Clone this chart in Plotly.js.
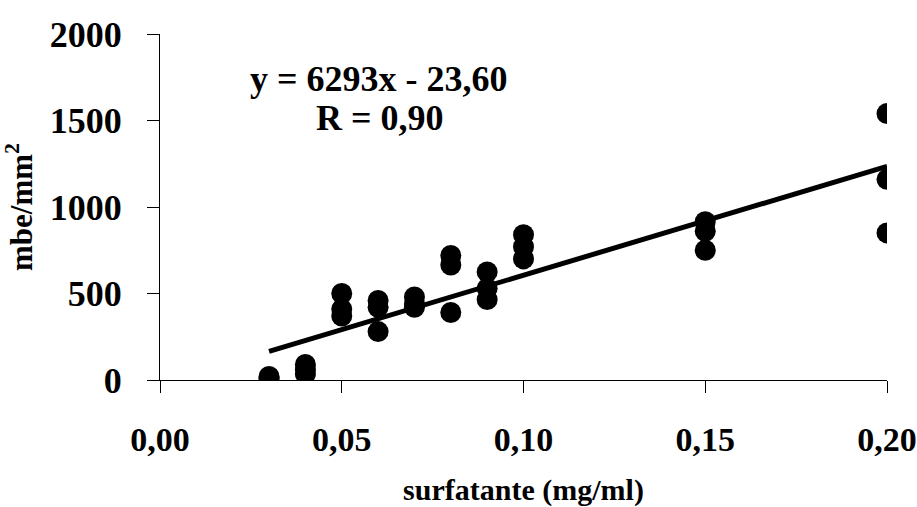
<!DOCTYPE html>
<html>
<head>
<meta charset="utf-8">
<script src="https://cdn.plot.ly/plotly-3.0.1.min.js"></script>
<style>html,body{margin:0;padding:0;background:#fff}#chart{width:917px;height:507px}</style>
</head>
<body>
<div id="chart"></div>
<script>
// Data
const surfactant = [0.03,0.03, 0.04,0.04,0.04, 0.05,0.05,0.05, 0.06,0.06,0.06, 0.07,0.07,0.07, 0.08,0.08,0.08, 0.09,0.09,0.09, 0.10,0.10,0.10, 0.15,0.15,0.15, 0.20,0.20,0.20];
const mbe = [10,20, 90,60,35, 500,410,370, 460,420,280, 480,440,420, 720,665,390, 625,530,465, 840,770,700, 915,860,750, 1540,1160,850];
const fitSlope = 6293;
const fitIntercept = -23.60;
const fitX = [0.03, 0.20];
const fitY = fitX.map(x => fitSlope * x + fitIntercept);
const xTickVals = [0, 0.05, 0.10, 0.15, 0.20];
const xTickText = ['0,00','0,05','0,10','0,15','0,20'];
const yTickVals = [0, 500, 1000, 1500, 2000];
const yTickText = ['0','500','1000','1500','2000'];

const FONT = 'Liberation Serif, Times New Roman, serif';

const traces = [
  {x: surfactant, y: mbe, type: 'scatter', mode: 'markers',
   marker: {color: '#000', size: 21}, hoverinfo: 'x+y'},
  {x: fitX, y: fitY, type: 'scatter', mode: 'lines',
   line: {color: '#000', width: 5}, hoverinfo: 'skip'}
];

const layout = {
  width: 917, height: 507,
  margin: {l: 160, r: 30, t: 34, b: 127},
  paper_bgcolor: '#fff', plot_bgcolor: '#fff',
  showlegend: false,
  font: {family: FONT, color: '#000', weight: 'bold'},
  xaxis: {
    range: [0, 0.20], tickvals: xTickVals, ticktext: xTickText,
    showgrid: false, zeroline: false, showline: true, linecolor: '#000', linewidth: 1,
    ticks: 'outside', ticklen: 12, tickcolor: '#000', tickwidth: 1,
    tickfont: {family: FONT, size: 34, color: '#000', weight: 'bold'},
    ticklabelstandoff: 17,
    title: {text: 'surfatante (mg/ml)', font: {family: FONT, size: 30, color: '#000', weight: 'bold'}, standoff: 24},
    fixedrange: true
  },
  yaxis: {
    range: [0, 2000], tickvals: yTickVals, ticktext: yTickText,
    showgrid: false, zeroline: false, showline: true, linecolor: '#000', linewidth: 1,
    ticks: 'outside', ticklen: 12, tickcolor: '#000', tickwidth: 1,
    tickfont: {family: FONT, size: 36, color: '#000', weight: 'bold'},
    ticklabelstandoff: 18,
    title: {text: 'mbe/mm<sup>2</sup>', font: {family: FONT, size: 31, color: '#000', weight: 'bold'}, standoff: 10},
    fixedrange: true
  },
  annotations: [
    {xref: 'paper', yref: 'paper', x: (379-160)/727, y: (380-79)/346, xanchor: 'center', yanchor: 'middle',
     text: 'y = 6293x - 23,60', showarrow: false, font: {family: FONT, size: 36, color: '#000', weight: 'bold'}},
    {xref: 'paper', yref: 'paper', x: (380-160)/727, y: (380-118)/346, xanchor: 'center', yanchor: 'middle',
     text: 'R = 0,90', showarrow: false, font: {family: FONT, size: 36, color: '#000', weight: 'bold'}}
  ]
};

Plotly.newPlot('chart', traces, layout, {displayModeBar: false, staticPlot: true});
</script>
</body>
</html>
